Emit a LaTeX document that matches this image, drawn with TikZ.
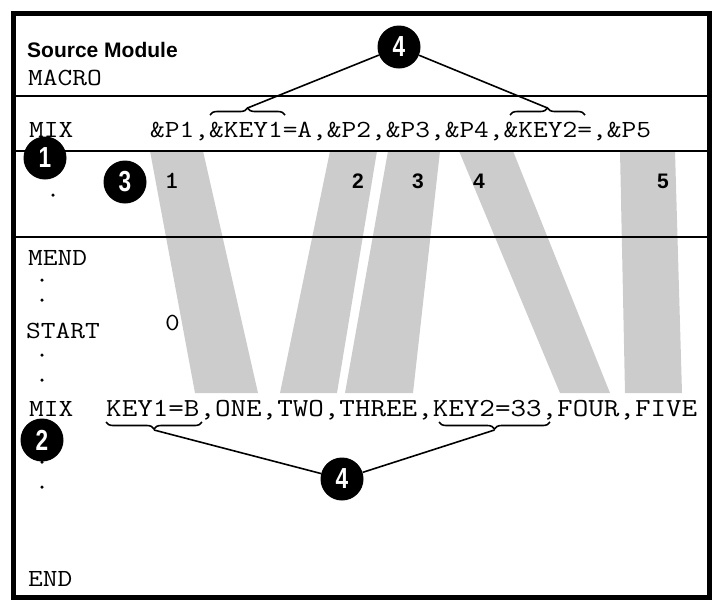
\documentclass[tikz,border=0pt]{standalone}
\usepackage{fontspec}
\setmainfont{Liberation Sans}
\setsansfont{Liberation Sans}
\usepackage{graphicx}
\usepackage{tikz}
\usetikzlibrary{positioning,calc,decorations.pathreplacing}

\newcommand{\cnum}[1]{\scalebox{0.78}[1]{#1}}

\begin{document}
\begin{tikzpicture}[x=1pt, y=-1pt,
  frame/.style={line width=5pt},
  rule/.style={line width=1.6pt},
  band/.style={fill=black!20},
  code/.style={anchor=base west, inner sep=0pt, yscale=0.86, font=\ttfamily\fontsize{28.6}{30}\selectfont},
  parm/.style={anchor=base west, inner sep=0pt, yscale=0.86, font=\ttfamily\fontsize{28.6}{30}\selectfont},
  oper/.style={anchor=base west, inner sep=0pt, yscale=0.86, font=\ttfamily\fontsize{30.2}{30}\selectfont},
  posnum/.style={anchor=base, inner sep=0pt, font=\sffamily\bfseries\fontsize{21}{24}\selectfont},
  dotmark/.style={circle, fill=black, inner sep=0pt, minimum size=3.5pt},
  callout/.style={circle, fill=black, text=white, inner sep=0pt, minimum size=43pt,
    font=\sffamily\bfseries\fontsize{29}{29}\selectfont},
  brc/.style={decorate, decoration={brace, amplitude=7pt}, line width=1.6pt},
  lead/.style={line width=1.6pt}
]
  \useasboundingbox (0,0) rectangle (714,606);

  % shaded bands: positional parameters to operands
  \foreach \a/\b/\c/\d in {150/203/258/195, 330/377/337/280, 388/440/413/345,
                           459/513/610/560, 620/675/682/625}
    \fill[band] (\a,151) -- (\b,151) -- (\c,393) -- (\d,393) -- cycle;

  % frame and rules
  \draw[frame] (13,13) rectangle (709,597);
  \draw[rule] (13,96) -- (709,96);
  \draw[rule] (13,151) -- (709,151);
  \draw[rule] (13,237) -- (709,237);

  % macro definition
  \node[anchor=base west, inner sep=0pt, font=\sffamily\bfseries\fontsize{21}{24}\selectfont]
    (title) at (27,57) {Source Module};
  \node[code] (macro) at (28,85) {MACRO};
  \node[code] (mix1) at (29,137) {MIX};
  \node[parm] (proto) at (150,137) {\&P1,\&KEY1=A,\&P2,\&P3,\&P4,\&KEY2=,\&P5};

  % positions
  \node[code, anchor=base] (p1) at (172,188) {\bfseries 1};
  \node[posnum] (p2) at (358,188) {2};
  \node[posnum] (p3) at (418,188) {3};
  \node[posnum] (p4) at (479,188) {4};
  \node[posnum] (p5) at (663,188) {5};
  \node[dotmark] (d0) at (53,195) {};

  % source statements
  \node[code] (mend) at (28,265) {MEND};
  \node[dotmark] (d1) at (42,280) {};
  \node[dotmark] (d2) at (42,300) {};
  \node[code] (start) at (26,338) {START};
  \node[code] (zero) at (165,330) {0};
  \node[dotmark] (d3) at (42,355) {};
  \node[dotmark] (d4) at (42,380) {};
  \node[code] (mix2) at (29,416) {MIX};
  \node[oper] (call) at (106,416) {KEY1=B,ONE,TWO,THREE,KEY2=33,FOUR,FIVE};
  \node[dotmark] (d5) at (42,462) {};
  \node[dotmark] (d6) at (42,487) {};
  \node[code] (fin) at (28,586) {END};

  % braces over/under keyword parameters
  \draw[brc] (210,115) -- (285,115);
  \draw[brc] (510,115) -- (585,115);
  \draw[brc] (202,422) -- (106,422);
  \draw[brc] (550,422) -- (439,422);
  \coordinate (tkA) at (247.5,108);
  \coordinate (tkB) at (547.5,108);
  \coordinate (bkA) at (154,430);
  \coordinate (bkB) at (494.5,430);

  % callouts
  \node[callout] (c1) at (45,158) {\cnum{1}};
  \node[callout] (c2) at (42,440) {\cnum{2}};
  \node[callout] (c3) at (125,182) {\cnum{3}};
  \node[callout] (c4a) at (399,47) {\cnum{4}};
  \node[callout] (c4b) at (342,479) {\cnum{4}};

  \draw[lead] (c4a) -- (tkA);
  \draw[lead] (c4a) -- (tkB);
  \draw[lead] (c4b) -- (bkA);
  \draw[lead] (c4b) -- (bkB);
\end{tikzpicture}
\end{document}
